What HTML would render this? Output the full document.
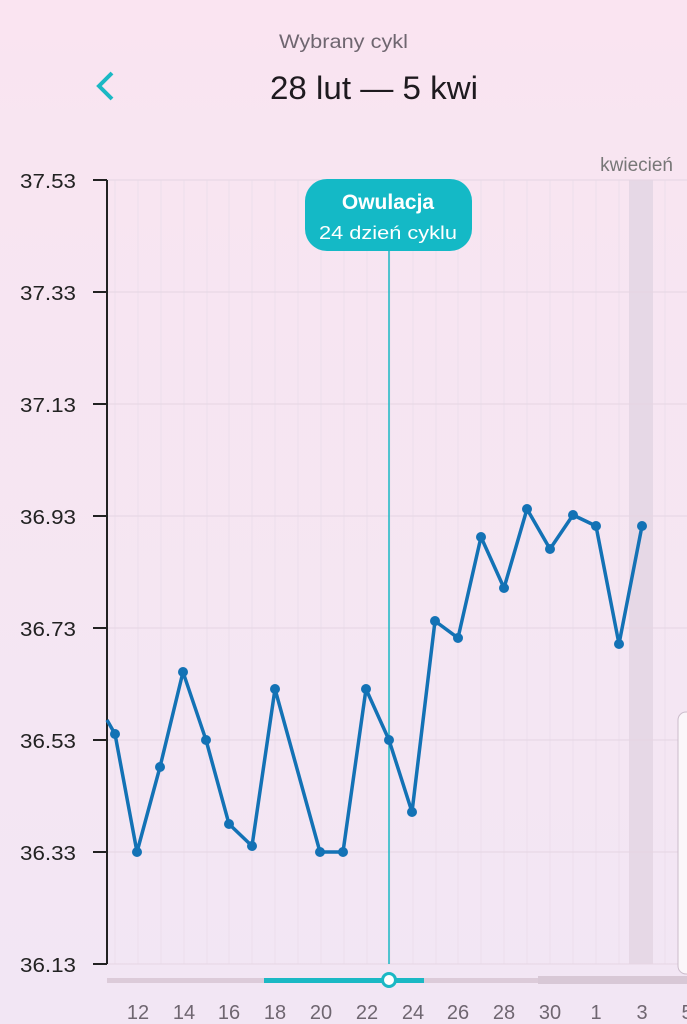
<!DOCTYPE html>
<html><head><meta charset="utf-8"><style>
html,body{margin:0;padding:0}
body{width:687px;height:1024px;overflow:hidden;background:linear-gradient(#fae4f1 0,#f8e5f1 150px,#f2e6f4 1024px);font-family:"Liberation Sans",sans-serif;position:relative}
</style></head><body>
<svg width="687" height="1024" style="position:absolute;left:0;top:0" font-family="Liberation Sans, sans-serif">
<text x="279" y="48" font-size="19" fill="#6f6670" textLength="129" lengthAdjust="spacingAndGlyphs">Wybrany cykl</text>
<text x="270" y="99" font-size="32" fill="#1e1a1f" textLength="208" lengthAdjust="spacingAndGlyphs">28 lut — 5 kwi</text>
<polyline points="112,73 99,86 112,99" fill="none" stroke="#1bb8c4" stroke-width="4"/>
<text x="673" y="171" text-anchor="end" font-size="19" fill="#777">kwiecień</text>
<rect x="629" y="180" width="24" height="784" fill="#e6d8e6"/>
<g stroke="#ecdfec" stroke-width="1">
<line x1="115" y1="180" x2="115" y2="964"/><line x1="138" y1="180" x2="138" y2="964"/><line x1="161" y1="180" x2="161" y2="964"/><line x1="184" y1="180" x2="184" y2="964"/><line x1="207" y1="180" x2="207" y2="964"/><line x1="229" y1="180" x2="229" y2="964"/><line x1="252" y1="180" x2="252" y2="964"/><line x1="275" y1="180" x2="275" y2="964"/><line x1="298" y1="180" x2="298" y2="964"/><line x1="321" y1="180" x2="321" y2="964"/><line x1="344" y1="180" x2="344" y2="964"/><line x1="367" y1="180" x2="367" y2="964"/><line x1="390" y1="180" x2="390" y2="964"/><line x1="413" y1="180" x2="413" y2="964"/><line x1="436" y1="180" x2="436" y2="964"/><line x1="458" y1="180" x2="458" y2="964"/><line x1="481" y1="180" x2="481" y2="964"/><line x1="504" y1="180" x2="504" y2="964"/><line x1="527" y1="180" x2="527" y2="964"/><line x1="550" y1="180" x2="550" y2="964"/><line x1="573" y1="180" x2="573" y2="964"/><line x1="596" y1="180" x2="596" y2="964"/><line x1="619" y1="180" x2="619" y2="964"/><line x1="665" y1="180" x2="665" y2="964"/>
</g>
<g stroke="#e5d5e3" stroke-width="1">
<line x1="107" y1="180" x2="687" y2="180"/><line x1="107" y1="292" x2="687" y2="292"/><line x1="107" y1="404" x2="687" y2="404"/><line x1="107" y1="516" x2="687" y2="516"/><line x1="107" y1="628" x2="687" y2="628"/><line x1="107" y1="740" x2="687" y2="740"/><line x1="107" y1="852" x2="687" y2="852"/><line x1="107" y1="964" x2="687" y2="964"/>
</g>
<g stroke="#222" stroke-width="2"><line x1="107" y1="180" x2="107" y2="964"/>
<line x1="93" y1="180" x2="107" y2="180"/><line x1="93" y1="292" x2="107" y2="292"/><line x1="93" y1="404" x2="107" y2="404"/><line x1="93" y1="516" x2="107" y2="516"/><line x1="93" y1="628" x2="107" y2="628"/><line x1="93" y1="740" x2="107" y2="740"/><line x1="93" y1="852" x2="107" y2="852"/><line x1="93" y1="964" x2="107" y2="964"/></g>
<g font-size="20" fill="#222">
<text x="20" y="188" textLength="56" lengthAdjust="spacingAndGlyphs">37.53</text><text x="20" y="300" textLength="56" lengthAdjust="spacingAndGlyphs">37.33</text><text x="20" y="412" textLength="56" lengthAdjust="spacingAndGlyphs">37.13</text><text x="20" y="524" textLength="56" lengthAdjust="spacingAndGlyphs">36.93</text><text x="20" y="636" textLength="56" lengthAdjust="spacingAndGlyphs">36.73</text><text x="20" y="748" textLength="56" lengthAdjust="spacingAndGlyphs">36.53</text><text x="20" y="860" textLength="56" lengthAdjust="spacingAndGlyphs">36.33</text><text x="20" y="972" textLength="56" lengthAdjust="spacingAndGlyphs">36.13</text></g>
<rect x="678" y="712" width="20" height="262" rx="8" fill="#fbf6fa" stroke="#cbbccb"/>
<line x1="389" y1="240" x2="389" y2="964" stroke="#1bb8c4" stroke-width="1.5"/>
<rect x="305" y="179" width="167" height="72" rx="22" fill="#14b9c6"/>
<text x="388" y="209" text-anchor="middle" font-size="21" font-weight="bold" fill="#fff">Owulacja</text>
<text x="388" y="239" text-anchor="middle" font-size="18" fill="#fff" textLength="138" lengthAdjust="spacingAndGlyphs">24 dzień cyklu</text>
<polyline fill="none" stroke="#1372b5" stroke-width="3.5" stroke-linejoin="round" points="107,720 115,734 137,852 160,767 183,672 206,740 229,824 252,846 275,689 320,852 343,852 366,689 389,740 412,812 435,621 458,638 481,537 504,588 527,509 550,549 573,515 596,526 619,644 642,526"/>
<g fill="#1372b5">
<circle cx="115" cy="734" r="5"/><circle cx="137" cy="852" r="5"/><circle cx="160" cy="767" r="5"/><circle cx="183" cy="672" r="5"/><circle cx="206" cy="740" r="5"/><circle cx="229" cy="824" r="5"/><circle cx="252" cy="846" r="5"/><circle cx="275" cy="689" r="5"/><circle cx="320" cy="852" r="5"/><circle cx="343" cy="852" r="5"/><circle cx="366" cy="689" r="5"/><circle cx="389" cy="740" r="5"/><circle cx="412" cy="812" r="5"/><circle cx="435" cy="621" r="5"/><circle cx="458" cy="638" r="5"/><circle cx="481" cy="537" r="5"/><circle cx="504" cy="588" r="5"/><circle cx="527" cy="509" r="5"/><circle cx="550" cy="549" r="5"/><circle cx="573" cy="515" r="5"/><circle cx="596" cy="526" r="5"/><circle cx="619" cy="644" r="5"/><circle cx="642" cy="526" r="5"/></g>
<rect x="107" y="978" width="580" height="5" fill="#dccbd9"/>
<rect x="538" y="976" width="149" height="8" fill="#d8c8d6"/>
<rect x="264" y="978" width="160" height="5" fill="#1bb8c4"/>
<circle cx="389" cy="980" r="6.5" fill="#fff" stroke="#1bb8c4" stroke-width="3"/>
<g font-size="20" fill="#6f6670" text-anchor="middle">
<text x="138" y="1019">12</text><text x="184" y="1019">14</text><text x="229" y="1019">16</text><text x="275" y="1019">18</text><text x="321" y="1019">20</text><text x="367" y="1019">22</text><text x="413" y="1019">24</text><text x="458" y="1019">26</text><text x="504" y="1019">28</text><text x="550" y="1019">30</text><text x="596" y="1019">1</text><text x="642" y="1019">3</text><text x="687" y="1019">5</text></g>
</svg>
</body></html>
